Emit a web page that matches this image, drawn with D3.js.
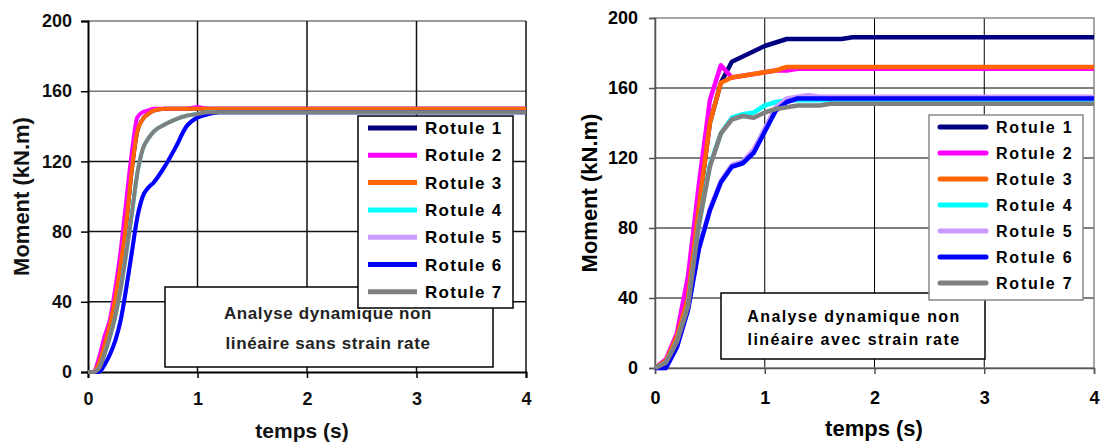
<!DOCTYPE html>
<html>
<head>
<meta charset="utf-8">
<script src="https://cdn.jsdelivr.net/npm/d3@7"></script>
<style>
  body { margin: 0; background: #fff; }
  svg { display: block; font-family: "Liberation Sans", Arial, sans-serif; font-weight: bold; }
</style>
</head>
<body>
<svg id="chart" width="1103" height="447"></svg>
<script>
// ---------------- données ----------------
var seriesNames = ["Rotule 1", "Rotule 2", "Rotule 3", "Rotule 4", "Rotule 5", "Rotule 6", "Rotule 7"];
var seriesColors = ["#000080", "#ff00ff", "#ff6600", "#00ffff", "#cc99ff", "#0000ff", "#808080"];
var yTicks = [0, 40, 80, 120, 160, 200];
var xTicks = [0, 1, 2, 3, 4];

// sans strain rate (gauche)
var tempsSans = [0, 0.05, 0.1, 0.15, 0.2, 0.25, 0.3, 0.35, 0.4, 0.45, 0.5, 0.55, 0.6, 0.7, 0.8, 0.9, 1.0, 1.1, 1.2, 1.5, 2, 3, 4];
var sansR1 = [0, 0, 5, 15, 27, 42, 62, 85, 115, 137, 144, 147, 149, 150, 150, 150, 150, 150, 150, 150, 150, 150, 150];
var sansR2 = [0, 0, 8, 20, 30, 48, 70, 98, 125, 145, 148, 149, 150, 150, 150, 150, 151, 150, 150, 150, 150, 150, 150];
var sansR3 = [0, 0, 5, 15, 27, 42, 62, 85, 115, 137, 144, 147, 149, 150, 150, 150, 150, 150, 150, 150, 150, 150, 150];
var sansR4 = [0, 0, 2, 10, 20, 32, 48, 68, 90, 113, 127, 133, 137, 141, 144, 146, 147, 148, 148, 148, 148, 148, 148];
var sansR5 = [0, 0, 0, 4, 10, 18, 30, 48, 68, 88, 100, 105, 108, 117, 128, 140, 145, 147, 148, 148, 148, 148, 148];
var sansR6 = [0, 0, 0, 4, 10, 18, 30, 48, 68, 88, 100, 105, 108, 117, 128, 140, 145, 147, 148, 148, 148, 148, 148];
var sansR7 = [0, 0, 2, 10, 20, 32, 48, 68, 90, 113, 127, 133, 137, 141, 144, 146, 147, 148, 148, 148, 148, 148, 148];

// avec strain rate (droite)
var tempsAvec = [0, 0.1, 0.2, 0.3, 0.4, 0.5, 0.6, 0.7, 0.8, 0.9, 1.0, 1.1, 1.2, 1.3, 1.4, 1.5, 1.6, 1.7, 1.8, 4];
var avecR1 = [0, 4, 18, 40, 92, 140, 163, 175, 178, 181, 184, 186, 188, 188, 188, 188, 188, 188, 189, 189];
var avecR2 = [0, 5, 20, 52, 105, 153, 173, 166, 167, 168, 169, 170, 170, 171, 171, 171, 171, 171, 171, 171];
var avecR3 = [0, 4, 18, 40, 92, 140, 163, 166, 167, 168, 169, 170, 172, 172, 172, 172, 172, 172, 172, 172];
var avecR4 = [0, 3, 15, 35, 82, 116, 134, 143, 145, 146, 150, 152, 153, 153, 153, 153, 153, 153, 153, 153];
var avecR5 = [0, 0, 12, 34, 69, 91, 107, 116, 118, 125, 137, 149, 154, 155, 156, 155, 155, 155, 155, 155];
var avecR6 = [0, 0, 12, 33, 68, 90, 106, 115, 117, 123, 135, 147, 152, 154, 154, 154, 154, 154, 154, 154];
var avecR7 = [0, 3, 15, 35, 82, 115, 134, 142, 144, 143, 146, 148, 149, 150, 150, 150, 151, 151, 151, 151];

var svg = d3.select("#chart");

//=============== graphe gauche (sans strain rate) ===============
function drawLeft() {
	var x = d3.scaleLinear().domain([0, 4]).range([88, 526]);
	var y = d3.scaleLinear().domain([0, 200]).range([372, 21]);
	var g = svg.append("g");

	// grille
	g.selectAll(".hgrid")
		.data(yTicks.filter(d => d > 0))
		.enter().append("line")
		.attr("x1", x(0)).attr("x2", x(4))
		.attr("y1", d => y(d)).attr("y2", d => y(d))
		.style("stroke", d => d >= 160 ? "#777" : "#111")
		.style("stroke-width", 1.5);
	g.selectAll(".vgrid")
		.data(xTicks.filter(d => d > 0))
		.enter().append("line")
		.attr("x1", d => x(d)).attr("x2", d => x(d))
		.attr("y1", y(200)).attr("y2", y(0))
		.style("stroke", "#111")
		.style("stroke-width", 1.5);

	// axes
	var ax = g.append("g")
		.attr("transform", `translate(0,${y(0)})`)
		.call(d3.axisBottom(x).tickValues(xTicks).tickFormat(d3.format("d")).tickSize(6).tickPadding(14));
	var ay = g.append("g")
		.attr("transform", `translate(${x(0)},0)`)
		.call(d3.axisLeft(y).tickValues(yTicks).tickSize(7).tickPadding(9));
	[ax, ay].forEach(a => {
		a.select(".domain").style("stroke", "#000").style("stroke-width", 2);
		a.selectAll(".tick line").style("stroke", "#000").style("stroke-width", 1.5);
		a.selectAll("text").style("font-size", "18px").style("font-weight", "bold")
			.style("font-family", "'Liberation Sans', Arial, sans-serif").style("fill", "#111");
	});

	// courbes
	var sans = [sansR1, sansR2, sansR3, sansR4, sansR5, sansR6, sansR7];
	var line = d3.line()
		.x((d, i) => x(tempsSans[i]))
		.y(d => y(d))
		.curve(d3.curveMonotoneX);
	g.selectAll(".serie")
		.data(sans)
		.enter().append("path")
		.attr("d", line)
		.style("fill", "none")
		.style("stroke", (d, i) => seriesColors[i])
		.style("stroke-width", 4);

	// encadré
	g.append("rect")
		.attr("x", 165).attr("y", 287).attr("width", 328).attr("height", 80)
		.style("fill", "#fff").style("stroke", "#000").style("stroke-width", 1.5);
	g.append("text").attr("x", 328).attr("y", 319).attr("text-anchor", "middle")
		.style("font-size", "17px").style("letter-spacing", "0.6px").style("fill", "#222")
		.text("Analyse dynamique non");
	g.append("text").attr("x", 328).attr("y", 349).attr("text-anchor", "middle")
		.style("font-size", "17px").style("letter-spacing", "0.6px").style("fill", "#222")
		.text("linéaire sans strain rate");

	// légende
	var lg = g.append("g");
	lg.append("rect")
		.attr("x", 358).attr("y", 116).attr("width", 155).attr("height", 192)
		.style("fill", "#fff").style("stroke", "#000").style("stroke-width", 1.5);
	var item = lg.selectAll(".item")
		.data(seriesNames)
		.enter().append("g")
		.attr("transform", (d, i) => `translate(0,${128 + i * 27.3})`);
	item.append("line")
		.attr("x1", 368).attr("x2", 417)
		.style("stroke", (d, i) => seriesColors[i])
		.style("stroke-width", 5);
	item.append("text")
		.attr("x", 425).attr("dy", "0.36em")
		.style("font-size", "17px").style("letter-spacing", "1.3px")
		.text(d => d);

	// titres
	svg.append("text")
		.attr("transform", `translate(29,${(y(0) + y(200)) / 2}) rotate(-90)`)
		.attr("text-anchor", "middle")
		.style("font-size", "22px").style("fill", "#111")
		.text("Moment (kN.m)");
	svg.append("text")
		.attr("x", 302).attr("y", 438)
		.attr("text-anchor", "middle")
		.style("font-size", "21px").style("fill", "#111")
		.text("temps (s)");
}

//=============== graphe droit (avec strain rate) ===============
function drawRight() {
	var x = d3.scaleLinear().domain([0, 4]).range([655, 1094]);
	var y = d3.scaleLinear().domain([0, 200]).range([368, 18]);
	var g = svg.append("g");

	g.selectAll(".hgrid")
		.data(yTicks.filter(d => d > 0 && d < 200))
		.enter().append("line")
		.attr("x1", x(0)).attr("x2", x(4))
		.attr("y1", d => y(d)).attr("y2", d => y(d))
		.style("stroke", "#000").style("stroke-width", 1);
	g.selectAll(".vgrid")
		.data(xTicks.filter(d => d > 0 && d < 4))
		.enter().append("line")
		.attr("x1", d => x(d)).attr("x2", d => x(d))
		.attr("y1", y(200)).attr("y2", y(0))
		.style("stroke", "#000").style("stroke-width", 1);
	g.append("rect")
		.attr("x", x(0)).attr("y", y(200))
		.attr("width", x(4) - x(0)).attr("height", y(0) - y(200))
		.style("fill", "none").style("stroke", "#888").style("stroke-width", 1.5);

	var ax = g.append("g")
		.attr("transform", `translate(0,${y(0)})`)
		.call(d3.axisBottom(x).tickValues(xTicks).tickFormat(d3.format("d")).tickSize(6).tickPadding(17));
	var ay = g.append("g")
		.attr("transform", `translate(${x(0)},0)`)
		.call(d3.axisLeft(y).tickValues(yTicks).tickSize(6).tickPadding(11));
	[ax, ay].forEach(a => {
		a.select(".domain").style("stroke", "#555").style("stroke-width", 1.5);
		a.selectAll(".tick line").style("stroke", "#555").style("stroke-width", 1.5);
		a.selectAll("text").style("font-size", "18px").style("font-weight", "bold")
			.style("font-family", "'Liberation Sans', Arial, sans-serif").style("fill", "#000");
	});

	var avec = [avecR1, avecR2, avecR3, avecR4, avecR5, avecR6, avecR7];
	var line = d3.line()
		.x((d, i) => x(tempsAvec[i]))
		.y(d => y(d));
	g.selectAll(".serie")
		.data(avec)
		.enter().append("path")
		.attr("d", line)
		.style("fill", "none")
		.style("stroke", (d, i) => seriesColors[i])
		.style("stroke-width", 4.5)
		.style("stroke-linejoin", "round");

	g.append("rect")
		.attr("x", 721).attr("y", 293).attr("width", 264).attr("height", 66)
		.style("fill", "#fff").style("stroke", "#000").style("stroke-width", 1.5);
	g.append("text").attr("x", 854).attr("y", 322).attr("text-anchor", "middle")
		.style("font-size", "16px").style("letter-spacing", "1.4px")
		.text("Analyse dynamique non");
	g.append("text").attr("x", 854).attr("y", 345).attr("text-anchor", "middle")
		.style("font-size", "16px").style("letter-spacing", "1.4px")
		.text("linéaire avec strain rate");

	var lg = g.append("g");
	lg.append("rect")
		.attr("x", 929).attr("y", 115).attr("width", 154).attr("height", 185)
		.style("fill", "#fff").style("stroke", "#888").style("stroke-width", 1.5);
	var item = lg.selectAll(".item")
		.data(seriesNames)
		.enter().append("g")
		.attr("transform", (d, i) => `translate(0,${127 + i * 26})`);
	item.append("line")
		.attr("x1", 940).attr("x2", 986)
		.style("stroke", (d, i) => seriesColors[i])
		.style("stroke-width", 5)
		.style("stroke-linecap", "round");
	item.append("text")
		.attr("x", 996).attr("dy", "0.36em")
		.style("font-size", "16px").style("letter-spacing", "1.8px")
		.text(d => d);

	svg.append("text")
		.attr("transform", `translate(597,${(y(0) + y(200)) / 2}) rotate(-90)`)
		.attr("text-anchor", "middle")
		.style("font-size", "22px")
		.text("Moment (kN.m)");
	svg.append("text")
		.attr("x", 874).attr("y", 436)
		.attr("text-anchor", "middle")
		.style("font-size", "22px")
		.text("temps (s)");
}

drawLeft();
drawRight();
</script>
</body>
</html>
